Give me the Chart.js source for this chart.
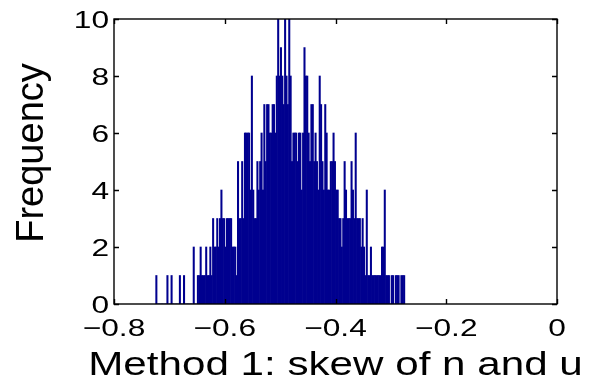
<!DOCTYPE html>
<html>
<head>
<meta charset="utf-8">
<script src="https://cdn.jsdelivr.net/npm/chart.js@4/dist/chart.umd.min.js"></script>
<style>
html,body{margin:0;padding:0;background:#fff;}
#wrap{width:592px;height:380px;}
</style>
</head>
<body>
<div id="wrap"><canvas id="c" width="592" height="380"></canvas></div>
<script>
// ---- data ----
const binStart = -0.7235;   // centre of first bin
const binWidth = 0.0025;
const counts = [
  1,0,0,0,0,0,0,0,1,0,
  0,1,0,0,0,0,0,1,0,0,
  1,0,0,0,0,0,0,2,0,0,
  1,1,2,1,1,1,2,1,1,2,
  1,3,2,2,3,2,3,4,3,3,
  2,3,3,3,3,2,2,2,1,5,
  3,3,5,3,6,6,6,6,4,8,
  4,3,3,5,4,5,6,4,7,5,
  7,7,6,6,7,7,6,8,10,8,
  9,8,7,10,8,7,10,8,5,6,
  6,6,5,6,6,4,6,9,8,8,
  6,5,7,7,5,6,5,4,8,7,
  5,4,7,6,4,4,5,5,6,5,
  4,4,3,3,2,3,5,4,3,3,
  3,5,4,3,6,3,3,3,2,3,
  2,1,4,1,1,2,1,1,1,1,
  1,1,1,2,2,4,1,1,1,0,
  1,1,0,1,1,1,0,1,1,1
];
const xTicks = [-0.8, -0.6, -0.4, -0.2, 0];
const yTicks = [0, 2, 4, 6, 8, 10];
const xTitle = 'Method 1: skew of n and u';
const yTitle = 'Frequency';

const points = counts.map((c, i) => ({x: +(binStart + i * binWidth).toFixed(5), y: c}));

function fmt(v){
  if (Math.abs(v) < 1e-9) return '0';
  const s = String(+v.toFixed(2));
  return s.replace('-', '\u2212');
}

const framePlugin = {
  id: 'frame',
  afterDraw(chart){
    const ctx = chart.ctx, a = chart.chartArea;
    const xs = chart.scales.x, ys = chart.scales.y;
    ctx.save();
    ctx.strokeStyle = '#000';
    ctx.lineWidth = 1.4;
    ctx.strokeRect(a.left, a.top, a.right - a.left, a.bottom - a.top);
    const tl = 5;
    ctx.beginPath();
    xTicks.forEach(v => {
      const px = Math.round(xs.getPixelForValue(v)) + 0.5;
      ctx.moveTo(px, a.bottom); ctx.lineTo(px, a.bottom - tl);
      ctx.moveTo(px, a.top); ctx.lineTo(px, a.top + tl);
    });
    yTicks.forEach(v => {
      const py = Math.round(ys.getPixelForValue(v)) + 0.5;
      ctx.moveTo(a.left, py); ctx.lineTo(a.left + tl, py);
      ctx.moveTo(a.right, py); ctx.lineTo(a.right - tl, py);
    });
    ctx.stroke();

    ctx.fillStyle = '#000';
    // tick labels (horizontally stretched like the reference)
    ctx.font = '24px "Liberation Sans", Arial, sans-serif';
    ctx.textBaseline = 'alphabetic';
    xTicks.forEach(v => {
      const px = xs.getPixelForValue(v);
      ctx.save();
      ctx.translate(px, a.bottom + 32);
      ctx.scale(1.32, 1);
      ctx.textAlign = 'center';
      ctx.fillText(fmt(v), 0, 0);
      ctx.restore();
    });
    yTicks.forEach(v => {
      const py = ys.getPixelForValue(v);
      ctx.save();
      ctx.translate(a.left - 5, py + 8.5);
      ctx.scale(1.32, 1);
      ctx.textAlign = 'right';
      ctx.fillText(fmt(v), 0, 0);
      ctx.restore();
    });
    // x title
    ctx.font = '34px "Liberation Sans", Arial, sans-serif';
    ctx.save();
    ctx.translate((a.left + a.right) / 2, a.bottom + 71);
    ctx.scale(1.24, 1);
    ctx.textAlign = 'center';
    ctx.fillText(xTitle, 0, 0);
    ctx.restore();
    // y title
    ctx.font = '38px "Liberation Sans", Arial, sans-serif';
    ctx.save();
    ctx.translate(43, 153);
    ctx.rotate(-Math.PI / 2);
    ctx.textAlign = 'center';
    ctx.fillText(yTitle, 0, 0);
    ctx.restore();
    ctx.restore();
  }
};

new Chart(document.getElementById('c'), {
  type: 'bar',
  data: {
    datasets: [{
      data: points,
      backgroundColor: '#00008F',
      borderWidth: 0,
      barPercentage: 1,
      categoryPercentage: 1
    }]
  },
  options: {
    responsive: false,
    animation: false,
    devicePixelRatio: 1,
    layout: {padding: {left: 0, right: 35, top: 19, bottom: 0}},
    plugins: {legend: {display: false}, tooltip: {enabled: false}},
    scales: {
      x: {
        type: 'linear', min: -0.8, max: 0, offset: false,
        grid: {display: false, offset: false}, border: {display: false},
        ticks: {display: false, stepSize: 0.2},
        afterFit(s){ s.height = 76; }
      },
      y: {
        type: 'linear', min: 0, max: 10,
        grid: {display: false}, border: {display: false},
        ticks: {display: false, stepSize: 2},
        afterFit(s){ s.width = 114; }
      }
    }
  },
  plugins: [framePlugin]
});
</script>
</body>
</html>
